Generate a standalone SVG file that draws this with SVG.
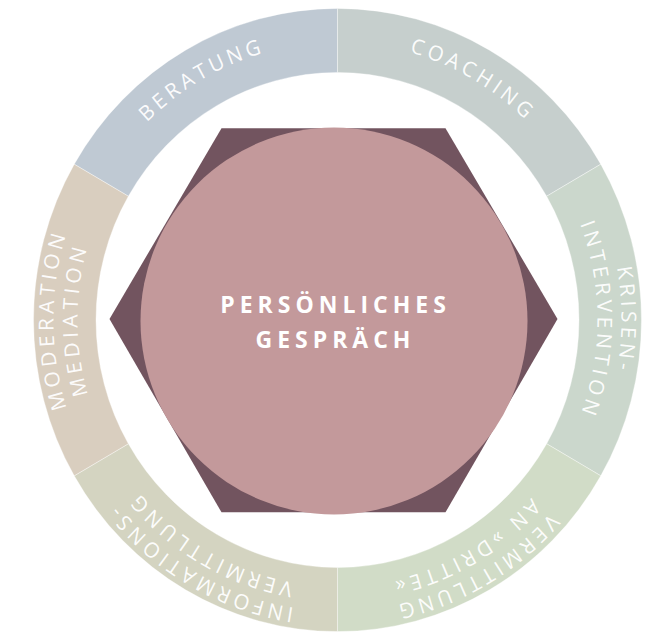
<svg xmlns="http://www.w3.org/2000/svg" xmlns:xlink="http://www.w3.org/1999/xlink" width="659" height="634" viewBox="0 0 659 634">
<style>
.seg{stroke:#ffffff;stroke-width:0.6;stroke-opacity:0.6}
.lbl{font-family:"Open Sans","Liberation Sans",sans-serif;font-weight:400;font-size:20.5px;letter-spacing:4px;fill:#ffffff;fill-opacity:0.95;text-anchor:middle}
.ctr{font-family:"Open Sans","Liberation Sans",sans-serif;font-weight:700;font-size:23px;letter-spacing:5px;fill:#ffffff;text-anchor:middle}
</style>
<defs>
<path id="r271" d="M0,271 A271,271 0 1 1 0,-271 A271,271 0 1 1 0,271 A271,271 0 1 1 0,-271 A271,271 0 1 1 0,271"/>
<path id="r284" d="M0,284 A284,284 0 1 1 0,-284 A284,284 0 1 1 0,284 A284,284 0 1 1 0,-284 A284,284 0 1 1 0,284"/>
<path id="r260" d="M0,260 A260,260 0 1 1 0,-260 A260,260 0 1 1 0,260 A260,260 0 1 1 0,-260 A260,260 0 1 1 0,260"/>
</defs>
<g transform="translate(337.5,320) scale(1,1.025)">
<g id="beratung">
<path class="seg" fill="#BFC9D3" d="M0,-304 A304,304 0 0 0 -263.27,-152 L-209.14,-120.75 A241.5,241.5 0 0 1 0,-241.5 Z"/>
<text class="lbl"><textPath xlink:href="#r271" href="#r271" startOffset="20.833%">BERATUNG</textPath></text>
</g>
<g id="coaching">
<path class="seg" fill="#C6CFCD" d="M263.27,-152 A304,304 0 0 0 0,-304 L0,-241.5 A241.5,241.5 0 0 1 209.14,-120.75 Z"/>
<text class="lbl"><textPath xlink:href="#r271" href="#r271" startOffset="29.167%">COACHING</textPath></text>
</g>
<g id="krisenintervention">
<path class="seg" fill="#CBD7CC" d="M263.27,152 A304,304 0 0 0 263.27,-152 L209.14,-120.75 A241.5,241.5 0 0 1 209.14,120.75 Z"/>
<text class="lbl"><textPath xlink:href="#r284" href="#r284" startOffset="37.5%">KRISEN-</textPath></text>
<text class="lbl"><textPath xlink:href="#r260" href="#r260" startOffset="37.5%">INTERVENTION</textPath></text>
</g>
<g id="vermittlung-dritte">
<path class="seg" fill="#D1DCC7" d="M0,304 A304,304 0 0 0 263.27,152 L209.14,120.75 A241.5,241.5 0 0 1 0,241.5 Z"/>
<text class="lbl"><textPath xlink:href="#r284" href="#r284" startOffset="45.833%">VERMITTLUNG</textPath></text>
<text class="lbl"><textPath xlink:href="#r260" href="#r260" startOffset="45.833%">AN »DRITTE«</textPath></text>
</g>
<g id="informationsvermittlung">
<path class="seg" fill="#D4D4C1" d="M-263.27,152 A304,304 0 0 0 0,304 L0,241.5 A241.5,241.5 0 0 1 -209.14,120.75 Z"/>
<text class="lbl"><textPath xlink:href="#r284" href="#r284" startOffset="4.1667%">INFORMATIONS-</textPath></text>
<text class="lbl"><textPath xlink:href="#r260" href="#r260" startOffset="4.1667%">VERMITTLUNG</textPath></text>
</g>
<g id="moderation">
<path class="seg" fill="#D9CEBF" d="M-263.27,-152 A304,304 0 0 0 -263.27,152 L-209.14,120.75 A241.5,241.5 0 0 1 -209.14,-120.75 Z"/>
<text class="lbl"><textPath xlink:href="#r284" href="#r284" startOffset="12.5%">MODERATION</textPath></text>
<text class="lbl"><textPath xlink:href="#r260" href="#r260" startOffset="12.5%">MEDIATION</textPath></text>
</g>
</g>
<g id="persoenliches-gespraech">
<polygon fill="#72545F" points="109.5,319 221.5,128.3 445.5,128.3 557.5,319 445.5,512.3 221.5,512.3"/>
<circle fill="#C3999B" cx="334" cy="321" r="193.5"/>
<text class="ctr" x="335.5" y="313">PERSÖNLICHES</text>
<text class="ctr" x="335.5" y="348">GESPRÄCH</text>
</g>
</svg>
